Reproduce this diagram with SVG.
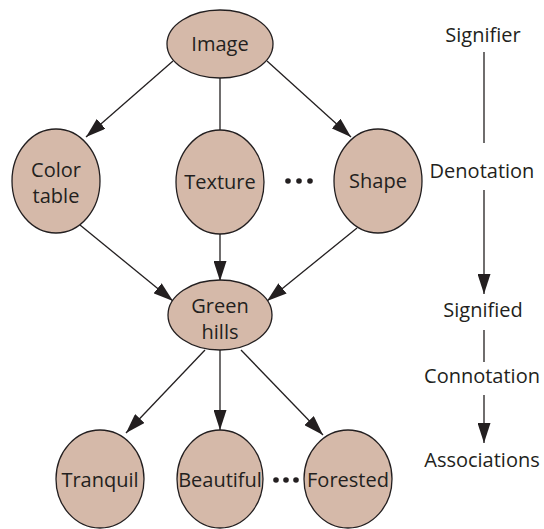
<svg xmlns="http://www.w3.org/2000/svg" width="544" height="529" viewBox="0 0 544 529">
<defs>
<style>
.node ellipse{fill:#d5b9a9;stroke:#231f20;stroke-width:1.3}
text{font-family:"Open Sans","Liberation Sans",sans-serif;font-size:20px;fill:#231f20;text-anchor:middle}
.edges line{stroke:#231f20;stroke-width:1.3}
.dots circle{fill:#231f20}
</style>
<marker id="ah" markerUnits="userSpaceOnUse" markerWidth="21" markerHeight="13" refX="20" refY="6.5" orient="auto">
<path d="M0,0 L20,6.5 L0,13 Z" fill="#231f20"/>
</marker>
</defs>
<rect width="544" height="529" fill="#ffffff"/>
<g class="edges">
<line x1="173" y1="61" x2="86" y2="137" marker-end="url(#ah)"/>
<line x1="220" y1="78" x2="220" y2="130"/>
<line x1="267" y1="61" x2="351" y2="137" marker-end="url(#ah)"/>
<line x1="80" y1="225" x2="173" y2="301" marker-end="url(#ah)"/>
<line x1="220" y1="234" x2="220" y2="281" marker-end="url(#ah)"/>
<line x1="357" y1="228" x2="267" y2="301" marker-end="url(#ah)"/>
<line x1="205" y1="350" x2="126" y2="433" marker-end="url(#ah)"/>
<line x1="220" y1="350" x2="220" y2="430" marker-end="url(#ah)"/>
<line x1="241" y1="350" x2="323" y2="435" marker-end="url(#ah)"/>
<line x1="484" y1="52" x2="484" y2="143"/>
<line x1="484" y1="190" x2="484" y2="294" marker-end="url(#ah)"/>
<line x1="484" y1="330" x2="484" y2="362"/>
<line x1="484" y1="395" x2="484" y2="443" marker-end="url(#ah)"/>
</g>
<g id="image" class="node"><ellipse cx="220" cy="44" rx="53" ry="34"/><text x="220" y="51">Image</text></g>
<g id="color-table" class="node"><ellipse cx="56" cy="181" rx="44" ry="52"/><text x="56" y="177">Color</text><text x="56" y="203">table</text></g>
<g id="texture" class="node"><ellipse cx="220" cy="182" rx="44" ry="52"/><text x="220" y="189">Texture</text></g>
<g id="shape" class="node"><ellipse cx="378" cy="181" rx="44" ry="52"/><text x="378" y="188">Shape</text></g>
<g id="green-hills" class="node"><ellipse cx="220" cy="315" rx="52" ry="35"/><text x="220" y="313">Green</text><text x="220" y="339">hills</text></g>
<g id="tranquil" class="node"><ellipse cx="100" cy="479" rx="44" ry="49"/><text x="100" y="487">Tranquil</text></g>
<g id="beautiful" class="node"><ellipse cx="220" cy="479" rx="43" ry="49"/><text x="220" y="487">Beautiful</text></g>
<g id="forested" class="node"><ellipse cx="348" cy="479" rx="44" ry="49"/><text x="348" y="487">Forested</text></g>
<g class="dots">
<circle cx="288" cy="181" r="2.8"/><circle cx="299" cy="181" r="2.8"/><circle cx="310" cy="181" r="2.8"/>
<circle cx="276" cy="480" r="2.8"/><circle cx="286" cy="480" r="2.8"/><circle cx="296" cy="480" r="2.8"/>
</g>
<g id="legend">
<text x="483" y="42">Signifier</text>
<text x="482" y="178">Denotation</text>
<text x="483" y="317">Signified</text>
<text x="482" y="383">Connotation</text>
<text x="482" y="467">Associations</text>
</g>
</svg>
